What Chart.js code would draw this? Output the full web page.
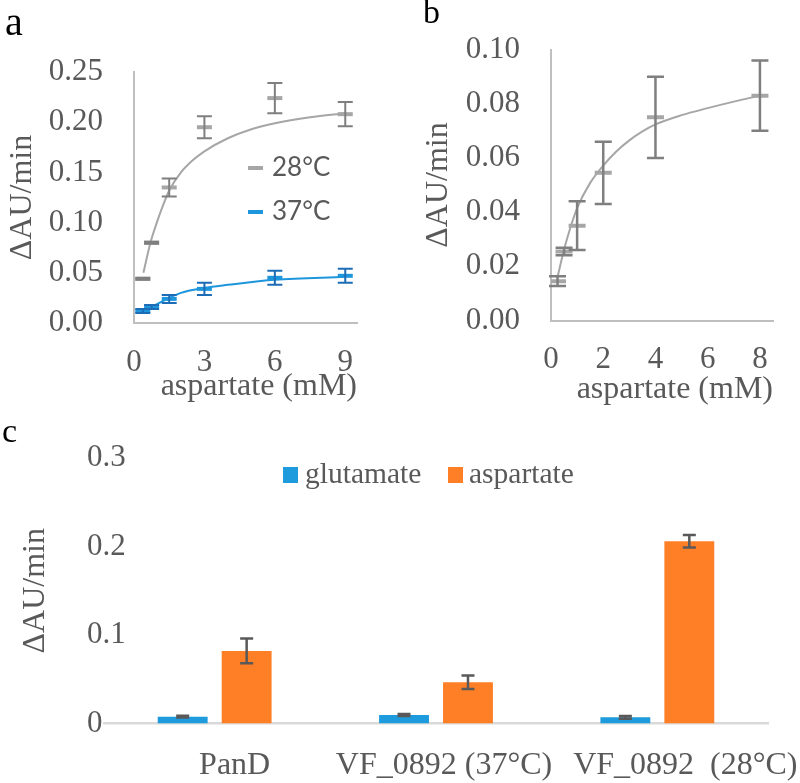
<!DOCTYPE html>
<html><head><meta charset="utf-8">
<script src="https://cdn.jsdelivr.net/npm/chart.js@4.4.1/dist/chart.umd.min.js"></script>
<style>
html,body{margin:0;padding:0;background:#fff;}
#wrap{position:relative;width:800px;height:783px;overflow:hidden;background:#fff;}
canvas{position:absolute;left:0;top:0;}
</style></head><body>
<div id="wrap">
<canvas id="ca" width="800" height="783"></canvas>
<canvas id="cb" width="800" height="783"></canvas>
<canvas id="cc" width="800" height="783"></canvas>
</div>
<script>
// ---------- Panel a data ----------
const aConc = [0.375, 0.75, 1.5, 3, 6, 9];
const a28Rate = [0.044, 0.080, 0.135, 0.195, 0.224, 0.208];
const a28Err = [0.001, 0.001, 0.009, 0.011, 0.015, 0.012];
const a37Rate = [0.012, 0.016, 0.024, 0.034, 0.045, 0.047];
const a37Err = [0.002, 0.002, 0.004, 0.006, 0.007, 0.007];
const a28FitX = [0.4, 0.7, 1.0, 1.2, 1.5, 2, 2.5, 3, 4, 5, 6, 7.5, 9];
const a28FitY = [0.050, 0.080, 0.102, 0.115, 0.132, 0.150, 0.162, 0.171, 0.184, 0.193, 0.199, 0.205, 0.209];
const a37FitX = [0.375, 0.75, 1.5, 2, 3, 4, 6, 9];
const a37FitY = [0.012, 0.016, 0.025, 0.030, 0.035, 0.038, 0.043, 0.046];
const aXTicks = [0, 3, 6, 9];
const aXTickLabels = ['0', '3', '6', '9'];
const aYTicks = [0, 0.05, 0.10, 0.15, 0.20, 0.25];
const aYTickLabels = ['0.00', '0.05', '0.10', '0.15', '0.20', '0.25'];
const aSeriesNames = ['28°C', '37°C'];

// ---------- Panel b data ----------
const bConc = [0.25, 0.5, 1, 2, 4, 8];
const bRate = [0.0145, 0.0255, 0.035, 0.0545, 0.075, 0.083];
const bErr = [0.0018, 0.0014, 0.009, 0.0115, 0.015, 0.013];
const bFitX = [0.25, 0.5, 0.75, 1, 1.5, 2, 2.5, 3, 3.5, 4, 5, 6, 7, 8];
const bFitY = [0.0160, 0.0262, 0.0345, 0.0415, 0.0508, 0.0572, 0.0624, 0.0665, 0.0698, 0.0724, 0.0758, 0.0784, 0.0808, 0.0830];
const bXTicks = [0, 2, 4, 6, 8];
const bXTickLabels = ['0', '2', '4', '6', '8'];
const bYTicks = [0, 0.02, 0.04, 0.06, 0.08, 0.10];
const bYTickLabels = ['0.00', '0.02', '0.04', '0.06', '0.08', '0.10'];

// ---------- Panel c data ----------
const cCategories = ['PanD', 'VF_0892 (37°C)', 'VF_0892  (28°C)'];
const cSeriesNames = ['glutamate', 'aspartate'];
const cGlu = [0.0077, 0.0096, 0.0070];
const cGluErr = [0.001, 0.001, 0.0015];
const cAsp = [0.082, 0.0466, 0.206];
const cAspErr = [0.014, 0.0075, 0.007];
const cYTicks = [0, 0.1, 0.2, 0.3];
const cYTickLabels = ['0', '0.1', '0.2', '0.3'];

const axisTitle = 'ΔAU/min';
const xTitle = 'aspartate (mM)';

// ---------- styles ----------
const SERIF = "'Liberation Serif', 'Times New Roman', serif";
const TXT = '#595959';
const AXIS = '#BFBFBF';
const GRAY = '#A6A6A6';
const GRAY_ERR = '#7F7F7F';
const BLUE = '#1E96DC';
const BLUE_ERR = '#1D6DB6';
const BAR_BLUE = '#1E9BDC';
const BAR_ORANGE = '#FF7F27';

Chart.defaults.font.family = SERIF;
Chart.defaults.color = TXT;

const pts = (xs, ys) => xs.map((x, i) => ({x: x, y: ys[i]}));

function errorBars(id, sets) {
  return {
    id: id,
    afterDatasetsDraw(chart) {
      const ctx = chart.ctx;
      const ys = chart.scales.y;
      sets.forEach(s => {
        const meta = chart.getDatasetMeta(s.ds);
        const data = chart.data.datasets[s.ds].data;
        ctx.save();
        ctx.strokeStyle = s.color;
        ctx.lineWidth = s.width;
        meta.data.forEach((el, i) => {
          const v = typeof data[i] === 'object' ? data[i].y : data[i];
          const e = s.errors[i];
          const x = el.x;
          const yt = ys.getPixelForValue(v + e);
          const yb = ys.getPixelForValue(v - e);
          ctx.beginPath();
          ctx.moveTo(x, yt); ctx.lineTo(x, yb);
          ctx.moveTo(x - s.cap / 2, yt); ctx.lineTo(x + s.cap / 2, yt);
          ctx.moveTo(x - s.cap / 2, yb); ctx.lineTo(x + s.cap / 2, yb);
          ctx.stroke();
        });
        ctx.restore();
      });
    }
  };
}

function placedLegend(id, items, font) {
  return {
    id: id,
    afterDraw(chart) {
      const ctx = chart.ctx;
      ctx.save();
      ctx.font = font;
      ctx.textBaseline = 'middle';
      ctx.textAlign = 'left';
      items.forEach(it => {
        const ds = chart.data.datasets[it.ds];
        if (it.kind === 'line') {
          ctx.strokeStyle = ds.borderColor;
          ctx.lineWidth = 4;
          ctx.beginPath();
          ctx.moveTo(it.x, it.y); ctx.lineTo(it.x + 15, it.y);
          ctx.stroke();
        } else {
          ctx.fillStyle = ds.backgroundColor;
          ctx.fillRect(it.x, it.y - 8, 15, 16);
        }
        ctx.fillStyle = TXT;
        ctx.fillText(ds.label, it.tx, it.y);
      });
      ctx.restore();
    }
  };
}

function panelLabel(id, text, x, y, size) {
  return {
    id: id,
    afterDraw(chart) {
      const ctx = chart.ctx;
      ctx.save();
      ctx.font = size + 'px ' + SERIF;
      ctx.fillStyle = '#000';
      ctx.textBaseline = 'alphabetic';
      ctx.textAlign = 'left';
      ctx.fillText(text, x, y);
      ctx.restore();
    }
  };
}

// nudges individual category labels sideways (as in the original figure)
function nudgeXLabels(id, shifts) {
  return {
    id: id,
    beforeDraw(chart) {
      const items = chart.scales.x.getLabelItems();
      items.forEach((it, i) => {
        if (!it._nudged) {
          it.options.translation[0] += shifts[i] || 0;
          it._nudged = true;
        }
      });
    }
  };
}

function fixedTicks(values) {
  return s => { s.ticks = values.map(v => ({value: v})); };
}

// ---------- Panel a ----------
new Chart(document.getElementById('ca'), {
  type: 'scatter',
  data: {
    datasets: [
      {label: aSeriesNames[0] + ' fit', data: pts(a28FitX, a28FitY), showLine: true, borderColor: GRAY, borderWidth: 2, pointRadius: 0, cubicInterpolationMode: 'monotone', fill: false},
      {label: aSeriesNames[1] + ' fit', data: pts(a37FitX, a37FitY), showLine: true, borderColor: BLUE, borderWidth: 2, pointRadius: 0, cubicInterpolationMode: 'monotone', fill: false},
      {label: aSeriesNames[0], data: pts(aConc, a28Rate), showLine: false, pointStyle: 'line', pointRadius: 7.5, pointBorderWidth: 4, borderColor: GRAY, backgroundColor: GRAY},
      {label: aSeriesNames[1], data: pts(aConc, a37Rate), showLine: false, pointStyle: 'line', pointRadius: 7.5, pointBorderWidth: 4, borderColor: BLUE, backgroundColor: BLUE}
    ]
  },
  options: {
    responsive: false, animation: false, devicePixelRatio: 1,
    events: [],
    layout: {padding: {left: 0, top: 72, right: 443, bottom: 373}},
    scales: {
      x: {
        type: 'linear', min: 0, max: 9.5, bounds: 'data',
        afterBuildTicks: fixedTicks(aXTicks),
        afterFit: s => { s.height = 87; },
        grid: {display: false, drawTicks: false},
        border: {display: true, color: AXIS, width: 2},
        ticks: {padding: 21, maxRotation: 0, autoSkip: false, font: {size: 31}, color: TXT, callback: (v, i) => aXTickLabels[i]},
        title: {display: true, text: xTitle, align: 'end', color: TXT, font: {size: 32}, padding: {top: 0, bottom: 4}}
      },
      y: {
        type: 'linear', min: 0, max: 0.25, bounds: 'data',
        afterBuildTicks: fixedTicks(aYTicks),
        afterFit: s => { s.width = 134; },
        grid: {display: false, drawTicks: false},
        border: {display: true, color: AXIS, width: 2},
        ticks: {padding: 31, autoSkip: false, font: {size: 31}, color: TXT, callback: (v, i) => aYTickLabels[i]},
        title: {display: true, text: axisTitle, color: TXT, font: {size: 32}, padding: {top: 3, bottom: 0}}
      }
    },
    plugins: {legend: {display: false}, tooltip: {enabled: false}}
  },
  plugins: [
    errorBars('errA', [
      {ds: 2, errors: a28Err, color: GRAY_ERR, width: 2, cap: 15},
      {ds: 3, errors: a37Err, color: BLUE_ERR, width: 2, cap: 15}
    ]),
    placedLegend('legA', [
      {ds: 2, kind: 'line', x: 248, y: 168, tx: 272},
      {ds: 3, kind: 'line', x: 248, y: 212, tx: 272}
    ], "26px Lato, 'Open Sans', sans-serif"),
    panelLabel('labA', 'a', 5, 35, 40)
  ]
});

// ---------- Panel b ----------
new Chart(document.getElementById('cb'), {
  type: 'scatter',
  data: {
    datasets: [
      {label: 'fit', data: pts(bFitX, bFitY), showLine: true, borderColor: GRAY, borderWidth: 2, pointRadius: 0, cubicInterpolationMode: 'monotone', fill: false},
      {label: 'aspartate', data: pts(bConc, bRate), showLine: false, pointStyle: 'line', pointRadius: 8.5, pointBorderWidth: 4, borderColor: GRAY, backgroundColor: GRAY}
    ]
  },
  options: {
    responsive: false, animation: false, devicePixelRatio: 1,
    events: [],
    layout: {padding: {left: 400, top: 35, right: 27, bottom: 363}},
    scales: {
      x: {
        type: 'linear', min: 0, max: 8.5, bounds: 'data',
        afterBuildTicks: fixedTicks(bXTicks),
        afterFit: s => { s.height = 99.5; },
        grid: {display: false, drawTicks: false},
        border: {display: true, color: AXIS, width: 2},
        ticks: {padding: 21, maxRotation: 0, autoSkip: false, font: {size: 31}, color: TXT, callback: (v, i) => bXTickLabels[i]},
        title: {display: true, text: xTitle, align: 'end', color: TXT, font: {size: 32}, padding: {top: 0, bottom: 11}}
      },
      y: {
        type: 'linear', min: 0, max: 0.10, bounds: 'data',
        afterBuildTicks: fixedTicks(bYTicks),
        afterFit: s => { s.width = 151; },
        grid: {display: false, drawTicks: false},
        border: {display: true, color: AXIS, width: 2},
        ticks: {padding: 31, autoSkip: false, font: {size: 31}, color: TXT, callback: (v, i) => bYTickLabels[i]},
        title: {display: true, text: axisTitle, color: TXT, font: {size: 32}, padding: {top: 19, bottom: 0}}
      }
    },
    plugins: {legend: {display: false}, tooltip: {enabled: false}}
  },
  plugins: [
    errorBars('errB', [{ds: 1, errors: bErr, color: GRAY_ERR, width: 2.5, cap: 17}]),
    panelLabel('labB', 'b', 423, 23, 34)
  ]
});

// ---------- Panel c ----------
new Chart(document.getElementById('cc'), {
  type: 'bar',
  data: {
    labels: cCategories,
    datasets: [
      {label: cSeriesNames[0], data: cGlu, backgroundColor: BAR_BLUE, borderWidth: 0, barPercentage: 0.78, categoryPercentage: 0.578},
      {label: cSeriesNames[1], data: cAsp, backgroundColor: BAR_ORANGE, borderWidth: 0, barPercentage: 0.78, categoryPercentage: 0.578}
    ]
  },
  options: {
    responsive: false, animation: false, devicePixelRatio: 1,
    events: [],
    layout: {padding: {left: 0, top: 458, right: 32, bottom: 0}},
    scales: {
      x: {
        type: 'category',
        afterFit: s => { s.height = 59.5; },
        grid: {display: false, drawTicks: false},
        border: {display: true, color: '#D9D9D9', width: 2.5},
        ticks: {padding: 23, maxRotation: 0, minRotation: 0, autoSkip: false, font: {size: 32}, color: TXT}
      },
      y: {
        type: 'linear', min: 0, max: 0.3, bounds: 'data',
        afterBuildTicks: fixedTicks(cYTicks),
        afterFit: s => { s.width = 104; },
        grid: {display: false, drawTicks: false},
        border: {display: false},
        ticks: {mirror: true, padding: -17, crossAlign: 'near', autoSkip: false, font: {size: 31}, color: TXT, callback: (v, i) => cYTickLabels[i]},
        title: {display: true, text: axisTitle, color: TXT, font: {size: 32}, padding: {top: 16, bottom: 0}}
      }
    },
    plugins: {legend: {display: false}, tooltip: {enabled: false}}
  },
  plugins: [
    errorBars('errC', [
      {ds: 0, errors: cGluErr, color: '#595959', width: 2.5, cap: 13},
      {ds: 1, errors: cAspErr, color: '#595959', width: 2.5, cap: 13}
    ]),
    placedLegend('legC', [
      {ds: 0, kind: 'box', x: 283, y: 475, tx: 305},
      {ds: 1, kind: 'box', x: 448, y: 475, tx: 469}
    ], "29.5px " + SERIF),
    nudgeXLabels('nudgeC', [20, 8, 28]),
    panelLabel('labC', 'c', 2, 442, 34)
  ]
});
</script>
</body></html>
